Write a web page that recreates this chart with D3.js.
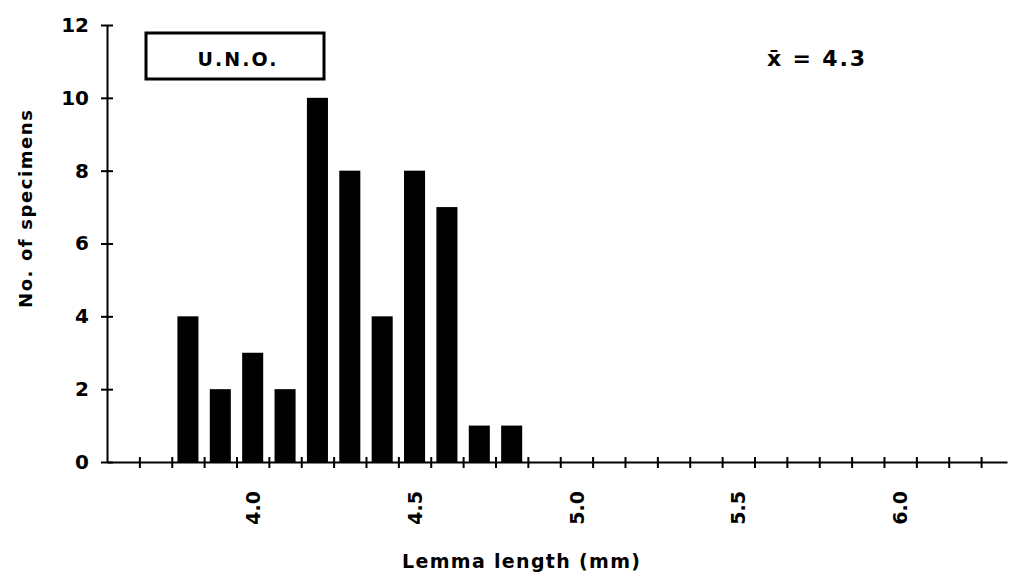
<!DOCTYPE html>
<html><head><meta charset="utf-8">
<script src="https://cdn.jsdelivr.net/npm/d3@7"></script>
<style>
body{margin:0;background:#fff;}
text{font-family:"DejaVu Sans",sans-serif;font-weight:bold;fill:#000;}
</style></head>
<body><svg id="c" width="1010" height="577"></svg>
<script>
const binCenters = [3.8,3.9,4.0,4.1,4.2,4.3,4.4,4.5,4.6,4.7,4.8];
const counts = [4,2,3,2,10,8,4,8,7,1,1];
const xTickLabels = [4.0,4.5,5.0,5.5,6.0];
const xMinorTicks = [3.65,3.75,3.85,3.95,4.05,4.15,4.25,4.35,4.45,4.55,4.65,4.75,4.85,4.95,5.05,5.15,5.25,5.35,5.45,5.55,5.65,5.75,5.85,5.95,6.05,6.15,6.25];
const yTicks = [0,2,4,6,8,10,12];
const legendLabel = "U.N.O.";
const meanLabel = "x̄ = 4.3";
const xTitle = "Lemma length (mm)";
const yTitle = "No. of specimens";

const svg = d3.select("#c");
const x = d3.scaleLinear().domain([3.55,6.33]).range([107,1007]);
const y = d3.scaleLinear().domain([0,12]).range([462,25]);

// bars
const bw = 0.065;
svg.append("g").selectAll("rect").data(binCenters).join("rect")
  .attr("x", d=>x(d-bw/2)).attr("width", (d)=>x(d+bw/2)-x(d-bw/2))
  .attr("y", (d,i)=>y(counts[i])).attr("height",(d,i)=>y(0)-y(counts[i]))
  .attr("fill","#000");

// x axis with crossing ticks
const gx = svg.append("g").attr("transform",`translate(0,${y(0)})`)
  .call(d3.axisBottom(x).tickValues(xMinorTicks).tickSize(6).tickSizeOuter(0).tickFormat(""));
gx.select(".domain").attr("stroke","#000").attr("stroke-width",2);
gx.selectAll(".tick line").attr("y1",-5).attr("y2",6).attr("stroke","#000").attr("stroke-width",2);

// x tick labels rotated
const gxl = svg.append("g").attr("transform",`translate(0,${y(0)})`)
  .call(d3.axisBottom(x).tickValues(xTickLabels).tickSize(0).tickFormat(d3.format(".1f")));
gxl.select(".domain").remove();
gxl.selectAll(".tick text").attr("transform","rotate(-90)")
  .attr("x",-29).attr("y",0).attr("dy","0.35em").attr("text-anchor","end")
  .style("font-size","19px").style("font-family","DejaVu Sans").style("font-weight","bold");

// y axis
const gy = svg.append("g").attr("transform",`translate(${x(3.55)},0)`)
  .call(d3.axisLeft(y).tickValues(yTicks).tickSize(6).tickSizeOuter(0).tickFormat(d3.format("d")));
gy.select(".domain").attr("stroke","#000").attr("stroke-width",2);
gy.selectAll(".tick line").attr("x1",-6).attr("x2",6).attr("stroke","#000").attr("stroke-width",2);
gy.selectAll(".tick text").attr("x",-18)
  .style("font-size","20px").style("font-family","DejaVu Sans").style("font-weight","bold");

// legend box
svg.append("rect").attr("x",146).attr("y",33).attr("width",178).attr("height",46)
  .attr("fill","none").attr("stroke","#000").attr("stroke-width",3);
svg.append("text").attr("x",237).attr("y",66).attr("text-anchor","middle")
  .style("font-size","19px").attr("textLength",79).text(legendLabel);

// mean
svg.append("text").attr("x",816).attr("y",66).attr("text-anchor","middle")
  .style("font-size","22px").attr("textLength",98).text(meanLabel);

// titles
svg.append("text").attr("x",521).attr("y",568).attr("text-anchor","middle")
  .style("font-size","19px").attr("textLength",238).text(xTitle);
svg.append("text").attr("transform","translate(32,209) rotate(-90)").attr("text-anchor","middle")
  .style("font-size","18px").attr("textLength",198).text(yTitle);
</script></body></html>
